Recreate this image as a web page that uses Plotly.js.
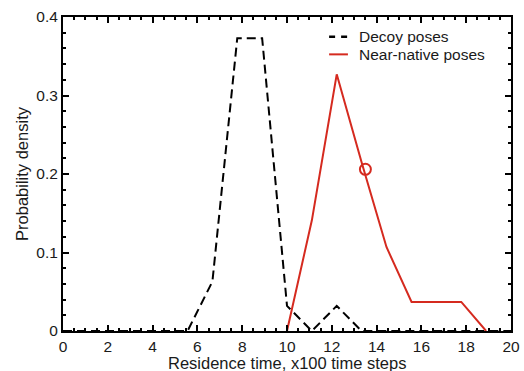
<!DOCTYPE html>
<html>
<head>
<meta charset="utf-8">
<script src="https://cdn.plot.ly/plotly-3.0.1.min.js"></script>
<style>html,body{margin:0;padding:0;background:#fff;}#chart{width:524px;height:371px;}</style>
</head>
<body>
<div id="chart"></div>
<script>
// Bin centres (x100 time steps)
const binCenters = [0, 1.11, 2.22, 3.33, 4.44, 5.56, 6.67, 7.78, 8.89, 10, 11.11, 12.22, 13.33, 14.44, 15.56, 16.67, 17.78, 18.89, 20];
const decoyDensity = [0, 0, 0, 0, 0, 0, 0.063, 0.373, 0.373, 0.032, 0, 0.032, 0, 0, 0, 0, 0, 0, 0];
const nativeDensity = [0, 0, 0, 0, 0, 0, 0, 0, 0, 0, 0.141, 0.327, 0.215, 0.107, 0.037, 0.037, 0.037, 0, 0];
const meanMarkerX = [13.5];
const meanMarkerY = [0.206];
const seriesNames = ["Decoy poses", "Near-native poses"];
const xTitle = "Residence time, x100 time steps";
const yTitle = "Probability density";

const red = "#d52a1f";
const font = "Liberation Sans, Arial, sans-serif";
const textColor = "#1a1a1a";
const decoyDash = "9px,5px";

const traces = [
  {x: binCenters, y: decoyDensity, name: seriesNames[0], mode: "lines", showlegend: false,
   line: {color: "#000", width: 2, dash: decoyDash}},
  {x: binCenters.slice(9, 18), y: nativeDensity.slice(9, 18), name: seriesNames[1], mode: "lines", showlegend: false,
   line: {color: red, width: 2}},
  {x: meanMarkerX, y: meanMarkerY, mode: "markers", showlegend: false,
   marker: {symbol: "circle-open", size: 11, color: red, line: {color: red, width: 2}}}
];

const axisCommon = {
  showgrid: false, zeroline: false, showline: true, linecolor: "#000", linewidth: 2,
  mirror: "allticks", ticks: "inside", tickcolor: "#000", tickwidth: 2, ticklen: 6,
  tickfont: {family: font, size: 15.5, color: textColor}
};

// manual legend (line samples + labels), placed in plot-area fractions
const legendRows = [0.937, 0.881];
const legendStyles = [{color: "#000", width: 2.5, dash: "6px,6px"}, {color: red, width: 2}];
const shapes = legendRows.map((yy, i) => ({
  type: "line", xref: "paper", yref: "paper", x0: 0.594, x1: 0.636, y0: yy, y1: yy, line: legendStyles[i]
}));
const annotations = legendRows.map((yy, i) => ({
  xref: "paper", yref: "paper", x: 0.657, y: yy, xanchor: "left", yanchor: "middle",
  text: seriesNames[i], showarrow: false, font: {family: font, size: 15.5, color: textColor}
}));
annotations.push({
  xref: "paper", yref: "paper", x: 0.5, y: -0.102, xanchor: "center", yanchor: "middle",
  text: xTitle, showarrow: false, font: {family: font, size: 16.5, color: textColor}
});

const layout = {
  width: 524, height: 371,
  margin: {l: 63, r: 13, t: 17, b: 40},
  paper_bgcolor: "#fff", plot_bgcolor: "#fff",
  showlegend: false,
  shapes: shapes,
  annotations: annotations,
  xaxis: Object.assign({}, axisCommon, {
    range: [0, 20], dtick: 2, tick0: 0,
    minor: {dtick: 0.5, ticks: "inside", ticklen: 3, tickwidth: 2, tickcolor: "#000"}
  }),
  yaxis: Object.assign({}, axisCommon, {
    range: [0, 0.4], dtick: 0.1, tick0: 0, tickformat: ".1~f",
    minor: {dtick: 0.02, ticks: "inside", ticklen: 3, tickwidth: 2, tickcolor: "#000"},
    title: {text: yTitle, font: {family: font, size: 16.5, color: textColor}, standoff: 4}
  })
};

Plotly.newPlot("chart", traces, layout, {displayModeBar: false, staticPlot: true});
</script>
</body>
</html>
